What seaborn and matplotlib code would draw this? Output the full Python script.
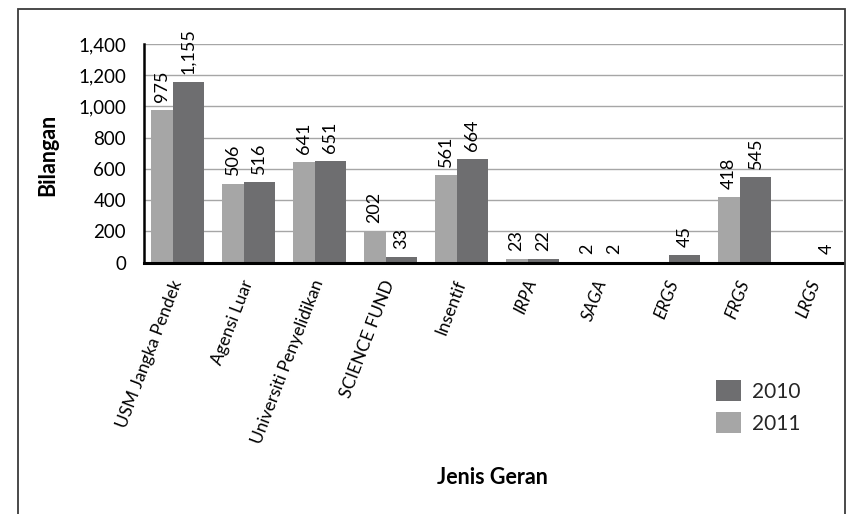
import numpy as np
import pandas as pd
import matplotlib
matplotlib.use("Agg")
import matplotlib.pyplot as plt
import seaborn as sns
from matplotlib.patches import Patch, Rectangle
from matplotlib.ticker import FuncFormatter

categories = ["USM Jangka Pendek", "Agensi Luar", "Universiti Penyelidikan",
              "SCIENCE FUND", "Insentif", "IRPA", "SAGA", "ERGS", "FRGS", "LRGS"]
values_2011 = [975, 506, 641, 202, 561, 23, 2, np.nan, 418, np.nan]
values_2010 = [1155, 516, 651, 33, 664, 22, 2, 45, 545, 4]
years = ["2011", "2010"]
yticks = [0, 200, 400, 600, 800, 1000, 1200, 1400]
italic_labels = ["IRPA", "SAGA", "ERGS", "FRGS", "LRGS"]

colors = {"2011": "#a6a6a6", "2010": "#6e6e70"}

df = pd.DataFrame({
    "Jenis": categories * 2,
    "Tahun": ["2011"] * len(categories) + ["2010"] * len(categories),
    "Bilangan": values_2011 + values_2010,
})

sns.set_theme(style="white")
plt.rcParams["font.family"] = ["Lato", "DejaVu Sans"]

W, H = 847, 514
fig = plt.figure(figsize=(W / 100, H / 100), dpi=100)
L, R, B, T = 144, 843, 262.5, 44
ax = fig.add_axes([L / W, 1 - B / H, (R - L) / W, (B - T) / H])

sns.barplot(data=df, x="Jenis", y="Bilangan", hue="Tahun", hue_order=years,
            order=categories, palette=colors, saturation=1, dodge=True,
            errorbar=None, ax=ax, legend=False)

# geometry of groups (px -> data units)
slot = 70.9
light_w = 22 / slot
dark_w = 31 / slot
half = (22 + 31) / 2 / slot
for cont, yr in zip(ax.containers, years):
    for bar in cont:
        c = round(bar.get_x() + bar.get_width() / 2)
        if yr == "2011":
            bar.set_x(c - half)
            bar.set_width(light_w)
        else:
            bar.set_x(c - half + light_w)
            bar.set_width(dark_w)
        bar.set_edgecolor("none")
    ax.bar_label(cont, labels=[f"{v:,.0f}" for v in cont.datavalues],
                 rotation=90, padding=6, fontsize=13, color="black")

ax.set_xlim((L - 177.5) / slot, (R - 177.5) / slot)
ax.set_ylim(0, 1400)
ax.set_yticks(yticks)
ax.yaxis.set_major_formatter(FuncFormatter(lambda v, p: f"{v:,.0f}"))
ax.tick_params(axis="y", length=0, pad=13, labelsize=13.5, labelcolor="black")
ax.tick_params(axis="x", length=0, pad=13, labelsize=12.5, labelcolor="black")

ax.set_xticks(range(len(categories)))
ax.set_xticklabels(categories, rotation=69, ha="right", va="center",
                   rotation_mode="anchor")
for lab in ax.get_xticklabels():
    if lab.get_text() in italic_labels:
        lab.set_fontstyle("italic")

ax.yaxis.grid(True, color="#a6a6a6", lw=1.0)
ax.set_axisbelow(True)
for s in ["top", "right"]:
    ax.spines[s].set_visible(False)
ax.spines["left"].set_color("black")
ax.spines["left"].set_linewidth(1.8)
ax.spines["bottom"].set_color("black")
ax.spines["bottom"].set_linewidth(2.2)

ax.set_xlabel("Jenis Geran", fontsize=15.5, fontweight="bold", color="black")
ax.set_ylabel("Bilangan", fontsize=15.5, fontweight="bold", color="black")
ax.xaxis.label.set_va("center")
ax.xaxis.set_label_coords((492 - L) / (R - L), -(477 - B) / (B - T))
ax.yaxis.label.set_va("center")
ax.yaxis.set_label_coords((48 - L) / (R - L), (B - 155) / (B - T))

handles = [Patch(facecolor=colors["2010"], edgecolor="none"),
           Patch(facecolor=colors["2011"], edgecolor="none")]
fig.legend(handles, ["2010", "2011"], loc="upper left",
           bbox_to_anchor=(716 / W, 1 - 380 / H), frameon=False,
           fontsize=15, handlelength=1.2, handleheight=1.2,
           handletextpad=0.55, labelspacing=0.5, borderpad=0,
           borderaxespad=0)

fig.add_artist(Rectangle((18 / W, -0.1), (845 - 18) / W, 1.1 - 9 / H,
                         transform=fig.transFigure, fill=False,
                         edgecolor="#3c3c3c", lw=1.3, clip_on=False))

fig.savefig("out.png", dpi=100)
